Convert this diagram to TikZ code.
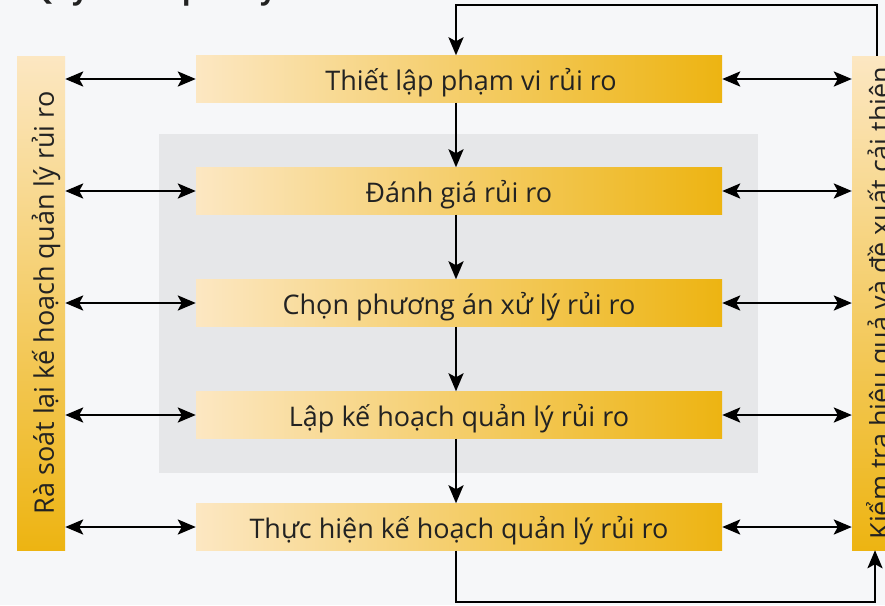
\documentclass[tikz,border=0pt]{standalone}
\usepackage{fontspec}
\setmainfont{Open Sans}
\usetikzlibrary{arrows.meta}
\definecolor{bgc}{HTML}{F6F7F9}
\definecolor{grayc}{HTML}{E6E7E9}
\definecolor{lightc}{HTML}{FCE7C2}
\definecolor{goldc}{HTML}{EDB412}
\definecolor{txtc}{HTML}{222222}
\newcommand{\lowr}[1]{\raisebox{-4pt}[\height][\depth]{#1}}
\tikzset{
  stepbox/.style={shade, shading=axis, left color=lightc, right color=goldc, draw=none,
    minimum width=526pt, minimum height=47pt, inner sep=0pt,
    font=\fontsize{27}{30}\selectfont, text=txtc},
  sidebox/.style={shade, shading=axis, top color=lightc, bottom color=goldc, draw=none,
    minimum width=48pt, minimum height=494pt, inner sep=0pt},
  sidetext/.style={rotate=90, font=\fontsize{27}{30}\selectfont, text=txtc, inner sep=0pt},
  conn/.style={line width=2.8pt, black, -{Stealth[length=18pt,width=15pt,inset=4pt]}},
  dconn/.style={line width=2.8pt, black, {Stealth[length=18pt,width=15pt,inset=4pt]}-{Stealth[length=18pt,width=15pt,inset=4pt]}},
}
\begin{document}
\begin{tikzpicture}[x=1pt,y=-1pt]
\fill[bgc] (0,0) rectangle (885,605);
\useasboundingbox (0,0) rectangle (885,605);
\begin{scope}
\clip (0,0) rectangle (885,605);
\node[anchor=base west, font=\bfseries\fontsize{28}{32}\selectfont, text=txtc] (title) at (28,-1) {Quy trình quản lý rủi ro};
\fill[grayc] (159,134) rectangle (758,473);
\node[stepbox] (b1) at (459,79) {\hspace{24pt}\lowr{Thiết lập phạm vi rủi ro}};
\node[stepbox] (b2) at (459,191) {\lowr{Đánh giá rủi ro}};
\node[stepbox] (b3) at (459,303) {\lowr{Chọn phương án xử lý rủi ro}};
\node[stepbox] (b4) at (459,415) {\lowr{Lập kế hoạch quản lý rủi ro}};
\node[stepbox] (b5) at (459,527) {\lowr{Thực hiện kế hoạch quản lý rủi ro}};
\node[sidebox] (L) at (41,303) {};
\node[sidetext] (Lt) at (46,303) {Rà soát lại kế hoạch quản lý rủi ro};
\node[sidebox] (R) at (876,303) {};
\node[sidetext] (Rt) at (881,303) {Kiểm tra hiệu quả và đề xuất cải thiện};
\foreach \b in {b1,b2,b3,b4,b5}{
  \draw[dconn] (\b.west -| L.east) -- (\b.west);
  \draw[dconn] (\b.east) -- (\b.east -| R.west);
}
\foreach \a/\b in {b1/b2,b2/b3,b3/b4,b4/b5}{
  \draw[conn] ([xshift=-3pt]\a.south) -- ([xshift=-3pt]\b.north);
}
\coordinate (toprow) at (0,5);
\coordinate (botrow) at (0,602);
\draw[conn] ([xshift=1pt]R.north) -- ([xshift=1pt]R.north |- toprow) -| ([xshift=-3pt]b1.north);
\draw[conn] ([xshift=-3pt]b5.south) -- ([xshift=-3pt]b5.south |- botrow) -| ([xshift=-1pt]R.south);
\end{scope}
\end{tikzpicture}
\end{document}
